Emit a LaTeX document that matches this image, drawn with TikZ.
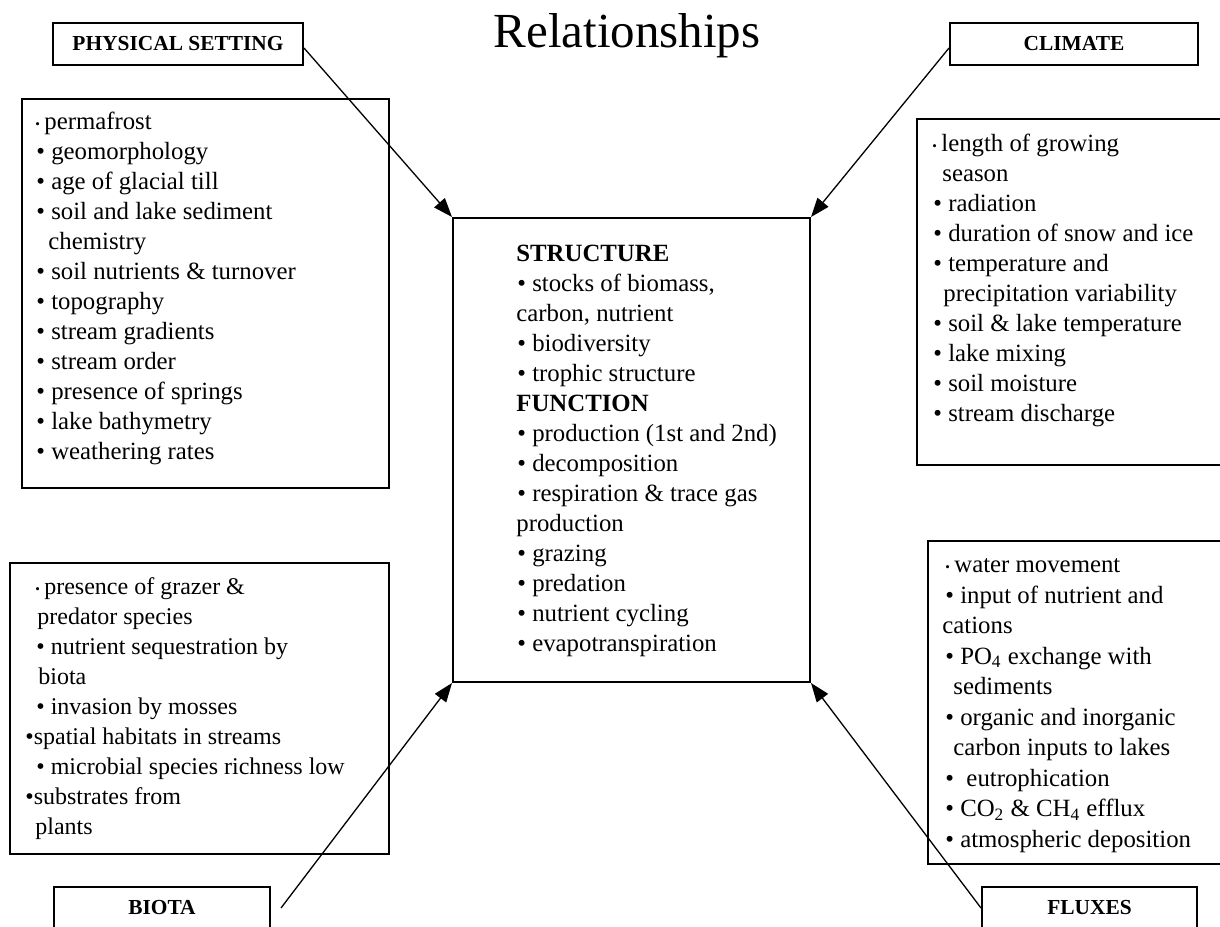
\documentclass[tikz,border=0pt]{standalone}
\usepackage{fontspec}
\setmainfont{Liberation Serif}
\usetikzlibrary{arrows.meta}
\newcommand\sbul{{\fontsize{6.5}{6.5}\selectfont\raisebox{0.6pt}{•}}\hspace{2.2pt}}
\begin{document}
\begin{tikzpicture}[x=0.5pt,y=-0.5pt,
  box/.style={draw, line width=1pt, inner sep=0pt, anchor=north west},
  hdr/.style={box, minimum height=21pt, font=\fontsize{10.7}{12}\selectfont\bfseries},
  list/.style={anchor=north west, inner sep=0pt, align=left, font=\fontsize{12.4}{15}\selectfont},
  arr/.style={line width=0.65pt, -{Triangle[length=9.5pt,width=7pt]}}]
\useasboundingbox (0,0) rectangle (1220,926);
\clip (0,0) rectangle (1220,926);

\node[anchor=base, inner sep=0pt, font=\fontsize{24.5}{29}\selectfont] (title) at (627,47) {Relationships};

% header boxes
\node[hdr, minimum width=125pt] (ps) at (52,22) {PHYSICAL SETTING};
\node[hdr, minimum width=124pt] (cl) at (949,22) {CLIMATE};
\node[hdr, minimum width=108pt] (bt) at (53,886) {BIOTA};
\node[hdr, minimum width=107.5pt] (fx) at (981,886) {FLUXES};

% list boxes
\node[box, minimum width=178.5pt, minimum height=232pt] (cbox) at (452,217) {};
\node[box, minimum width=183.5pt, minimum height=194.5pt] (pbox) at (21,98) {};
\node[box, minimum width=155pt, minimum height=173pt] (clbox) at (916,118) {};
\node[box, minimum width=189.5pt, minimum height=145.5pt] (bbox) at (9,562) {};
\node[box, minimum width=149.5pt, minimum height=161.5pt] (fbox) at (927,540) {};

% texts
\node[list] (ptext) at (35,108) {\strut\sbul permafrost\\
\hspace*{0.5pt}• geomorphology\\
\hspace*{0.5pt}• age of glacial till\\
\hspace*{0.5pt}• soil and lake sediment\\
\hspace*{6.5pt}chemistry\\
\hspace*{0.5pt}• soil nutrients \& turnover\\
\hspace*{0.5pt}• topography\\
\hspace*{0.5pt}• stream gradients\\
\hspace*{0.5pt}• stream order\\
\hspace*{0.5pt}• presence of springs\\
\hspace*{0.5pt}• lake bathymetry\\
\hspace*{0.5pt}• weathering rates};

\node[list] (cltext) at (932,130) {\strut\sbul length of growing\\
\hspace*{5pt}season\\
\hspace*{0.5pt}• radiation\\
\hspace*{0.5pt}• duration of snow and ice\\
\hspace*{0.5pt}• temperature and\\
\hspace*{5.5pt}precipitation variability\\
\hspace*{0.5pt}• soil \& lake temperature\\
\hspace*{0.5pt}• lake mixing\\
\hspace*{0.5pt}• soil moisture\\
\hspace*{0.5pt}• stream discharge};

\node[list] (ctext) at (516,240) {\strut\textbf{STRUCTURE}\\
\hspace*{0.5pt}• stocks of biomass,\\
carbon, nutrient\\
\hspace*{0.5pt}• biodiversity\\
\hspace*{0.5pt}• trophic structure\\
\textbf{FUNCTION}\\
\hspace*{0.5pt}• production (1st and 2nd)\\
\hspace*{0.5pt}• decomposition\\
\hspace*{0.5pt}• respiration \& trace gas\\
production\\
\hspace*{0.5pt}• grazing\\
\hspace*{0.5pt}• predation\\
\hspace*{0.5pt}• nutrient cycling\\
\hspace*{0.5pt}• evapotranspiration};

\node[list, font=\fontsize{12}{15}\selectfont] (btext) at (25,573) {\strut\hspace*{5pt}\sbul presence of grazer \&\\
\hspace*{6pt}predator species\\
\hspace*{5.5pt}• nutrient sequestration by\\
\hspace*{6.5pt}biota\\
\hspace*{5.5pt}• invasion by mosses\\
•spatial habitats in streams\\
\hspace*{5.5pt}• microbial species richness low\\
•substrates from\\
\hspace*{5pt}plants};

\node[list, font=\fontsize{12.4}{15.25}\selectfont] (ftext) at (942,551) {\strut\hspace*{1.5pt}\sbul water movement\\
\hspace*{1.5pt}• input of nutrient and\\
cations\\
\hspace*{1.5pt}• PO\textsubscript{4} exchange with\\
\hspace*{5.5pt}sediments\\
\hspace*{1.5pt}• organic and inorganic\\
\hspace*{5.5pt}carbon inputs to lakes\\
\hspace*{1.5pt}•\ \ eutrophication\\
\hspace*{1.5pt}• CO\textsubscript{2} \& CH\textsubscript{4} efflux\\
\hspace*{1.5pt}• atmospheric deposition};

% connectors
\draw[arr] ([yshift=-2pt]ps.east) -- (cbox.north west);
\draw[arr] ([yshift=-2pt]cl.west) -- (cbox.north east);
\draw[arr] ([xshift=5pt]bt.east) -- (cbox.south west);
\draw[arr] (fx.west) -- (cbox.south east);
\end{tikzpicture}
\end{document}
